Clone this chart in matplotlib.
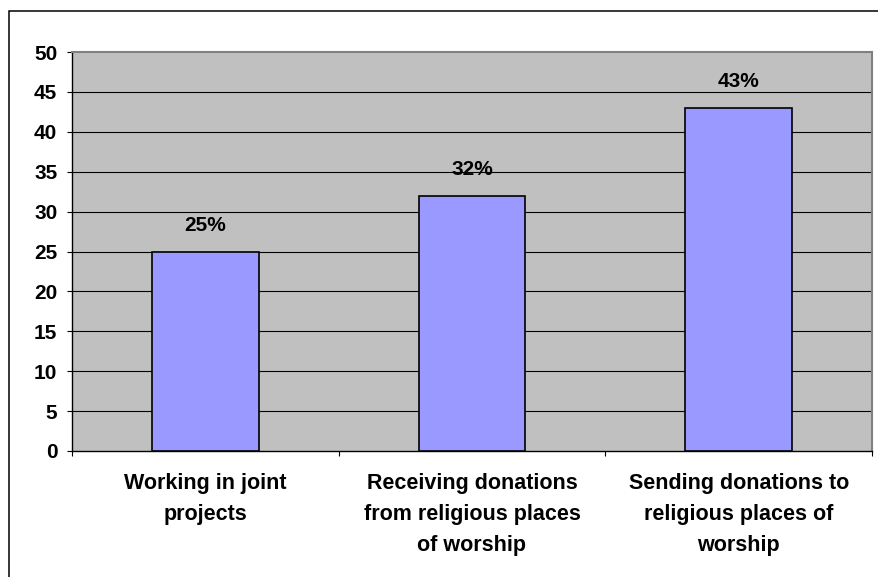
import matplotlib.pyplot as plt
from matplotlib.patches import Rectangle

categories = [
    "Working in joint\nprojects",
    "Receiving donations\nfrom religious places\nof worship",
    "Sending donations to\nreligious places of\nworship",
]
values = [25, 32, 43]
yticks = [0, 5, 10, 15, 20, 25, 30, 35, 40, 45, 50]

W, H = 879, 577
fig = plt.figure(figsize=(W / 100, H / 100), dpi=100)
fig.patch.set_facecolor("white")
plt.rcParams["font.family"] = ["Liberation Sans", "DejaVu Sans"]

ax = fig.add_axes([72 / W, 1 - 451 / H, 800 / W, 399 / H])
ax.set_facecolor("#C0C0C0")

x = list(range(len(values)))
ax.bar(x, values, width=0.4, color="#9999FF", edgecolor="black",
       linewidth=1.2, zorder=3)

for xi, v in zip(x, values):
    ax.annotate(f"{v}%", (xi, v), xytext=(0, 19), textcoords="offset points",
                ha="center", va="center", fontsize=15, fontweight="bold",
                zorder=4)

ax.set_ylim(0, 50)
ax.set_xlim(-0.5, len(values) - 0.5)
ax.set_yticks(yticks)
ax.set_yticklabels([str(t) for t in yticks], fontsize=15, fontweight="bold")
for t in yticks[1:-1]:
    ax.axhline(t, color="black", linewidth=0.8, zorder=1)

# category boundaries carry the ticks, centres carry the labels
ax.set_xticks([i - 0.5 for i in range(len(values) + 1)])
ax.set_xticklabels([])
ax.set_xticks(x, minor=True)
ax.set_xticklabels(categories, minor=True, fontsize=15.5, fontweight="bold",
                   linespacing=1.62, va="top")
ax.tick_params(axis="x", which="minor", length=0, pad=16)
ax.tick_params(axis="x", which="major", length=3.6, width=0.8, direction="out")
ax.tick_params(axis="y", length=3.6, width=0.8, direction="out", pad=7)

for side in ("left", "bottom"):
    ax.spines[side].set_color("black")
    ax.spines[side].set_linewidth(1.0)
for side in ("top", "right"):
    ax.spines[side].set_color("#808080")
    ax.spines[side].set_linewidth(1.5)

# outer chart frame, running off the right and bottom edges
fig.patches.append(Rectangle((9 / W, -0.5), 2, 1 - 11 / H + 0.5,
                             transform=fig.transFigure, fill=False,
                             edgecolor="black", linewidth=1.1))

fig.savefig("out.png", dpi=100)
